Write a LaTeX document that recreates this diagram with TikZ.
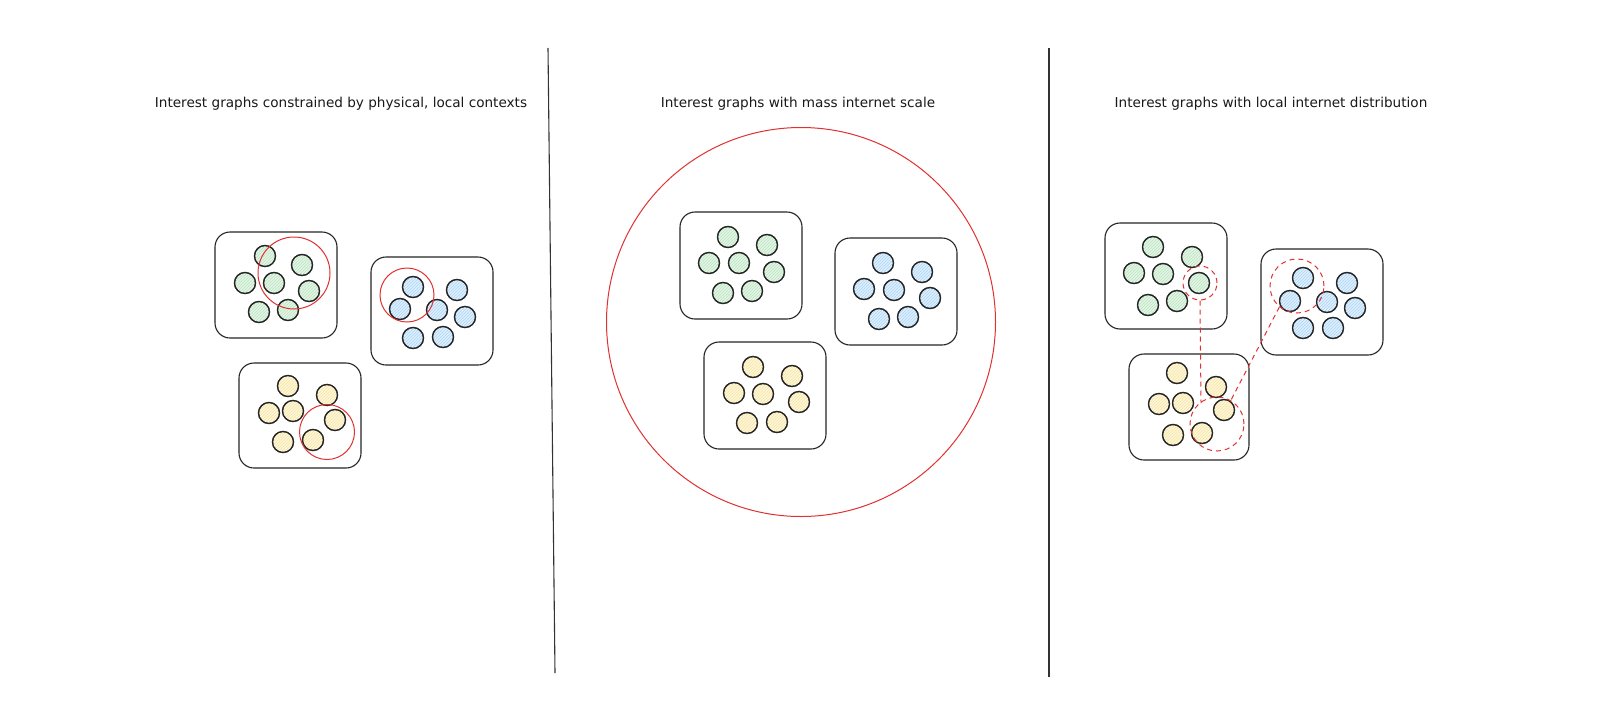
\documentclass[tikz,border=0pt]{standalone}
\usepackage{fontspec}
\setmainfont{DejaVu Sans}
\usetikzlibrary{patterns}
\definecolor{gfill}{RGB}{228,245,230}
\definecolor{ghat}{RGB}{185,230,192}
\definecolor{bfill}{RGB}{224,239,252}
\definecolor{bhat}{RGB}{170,214,250}
\definecolor{yfill}{RGB}{253,246,220}
\definecolor{yhat}{RGB}{250,230,160}
\definecolor{redline}{RGB}{224,49,49}
\tikzset{
  grp/.style={draw=black!85, line width=1.1pt, rounded corners=15pt},
  dot/.style={circle, draw=black!85, line width=1.2pt, minimum size=21pt, inner sep=0pt},
  gdot/.style={dot, fill=gfill, postaction={pattern=north east lines, pattern color=ghat}, postaction={draw=black!85, line width=1.2pt}},
  bdot/.style={dot, fill=bfill, postaction={pattern=north east lines, pattern color=bhat}, postaction={draw=black!85, line width=1.2pt}},
  ydot/.style={dot, fill=yfill, postaction={pattern=north east lines, pattern color=yhat}, postaction={draw=black!85, line width=1.2pt}},
  ring/.style={draw=redline, line width=1pt},
  dring/.style={draw=redline, line width=1pt, dash pattern=on 5pt off 4pt},
  divider/.style={draw=black!80, line width=1.1pt},
  title/.style={font=\fontsize{13.6}{16}\selectfont, text=black!90, inner sep=0pt}
}
\begin{document}
\begin{tikzpicture}[x=1pt,y=-1pt]
\useasboundingbox[fill=white] (0,0) rectangle (1600,715);

% titles
\node[title] (t1) at (341,104) {Interest graphs constrained by physical, local contexts};
\node[title] (t2) at (798,104) {Interest graphs with mass internet scale};
\node[title] (t3) at (1271,104) {Interest graphs with local internet distribution};

% dividers
\coordinate (d1a) at (548,48); \coordinate (d1b) at (555,673);
\coordinate (d2a) at (1049,48); \coordinate (d2b) at (1049,677);
\draw[divider] (d1a) -- (d1b);
\draw[divider] (d2a) -- (d2b);

% ---------- panel 1 ----------
\draw[grp] (215,232) rectangle (337,338);
\draw[grp] (371,257) rectangle (493,365);
\draw[grp] (239,363) rectangle (361,468);
\foreach \n/\x/\y in {a/265/256, b/302/265, c/245/283, d/274/283, e/309/291, f/259/312, g/288/310}
  \node[gdot] (p1g\n) at (\x,\y) {};
\foreach \n/\x/\y in {a/413/287, b/457/290, c/400/309, d/437/310, e/465/317, f/413/338, g/443/337}
  \node[bdot] (p1b\n) at (\x,\y) {};
\foreach \n/\x/\y in {a/288/386, b/327/395, c/269/413, d/293/411, e/335/420, f/283/442, g/313/440}
  \node[ydot] (p1y\n) at (\x,\y) {};
\draw[ring] (294,273) circle[radius=36];
\draw[ring] (407,295) circle[radius=27];
\draw[ring] (327,432) circle[radius=27.5];

% ---------- panel 2 ----------
\draw[ring] (801,322) circle[radius=194.5];
\draw[grp] (680,212) rectangle (802,319);
\draw[grp] (835,238) rectangle (957,345);
\draw[grp] (704,342) rectangle (826,449);
\foreach \n/\x/\y in {a/728/237, b/767/245, c/709/263, d/739/263, e/774/272, f/723/293, g/752/291}
  \node[gdot] (p2g\n) at (\x,\y) {};
\foreach \n/\x/\y in {a/883/263, b/922/272, c/864/289, d/894/290, e/930/298, f/879/319, g/908/317}
  \node[bdot] (p2b\n) at (\x,\y) {};
\foreach \n/\x/\y in {a/753/367, b/792/376, c/734/393, d/763/394, e/799/402, f/747/423, g/777/422}
  \node[ydot] (p2y\n) at (\x,\y) {};

% ---------- panel 3 ----------
\draw[grp] (1105,223) rectangle (1227,329);
\draw[grp] (1261,249) rectangle (1383,355);
\draw[grp] (1129,354) rectangle (1249,460);
\foreach \n/\x/\y in {a/1153/247, b/1192/257, c/1134/273, d/1163/274, e/1199/283, f/1148/305, g/1177/301}
  \node[gdot] (p3g\n) at (\x,\y) {};
\foreach \n/\x/\y in {a/1303/278, b/1347/283, c/1290/301, d/1327/302, e/1355/308, f/1303/328, g/1333/328}
  \node[bdot] (p3b\n) at (\x,\y) {};
\foreach \n/\x/\y in {a/1177/373, b/1216/387, c/1159/404, d/1183/403, e/1224/410, f/1173/435, g/1202/433}
  \node[ydot] (p3y\n) at (\x,\y) {};
\node[circle, dring, minimum size=34pt, inner sep=0pt] (rg) at (1200,283) {};
\node[circle, dring, minimum size=54pt, inner sep=0pt] (rb) at (1297,286) {};
\node[circle, dring, minimum size=54pt, inner sep=0pt] (ry) at (1217,424) {};
\coordinate (ly1) at (1201,403);
\coordinate (ly2) at (1230,402);
\draw[dring] (rg.south) -- (ly1);
\draw[dring] (rb.-130) -- (ly2);
\end{tikzpicture}
\end{document}
